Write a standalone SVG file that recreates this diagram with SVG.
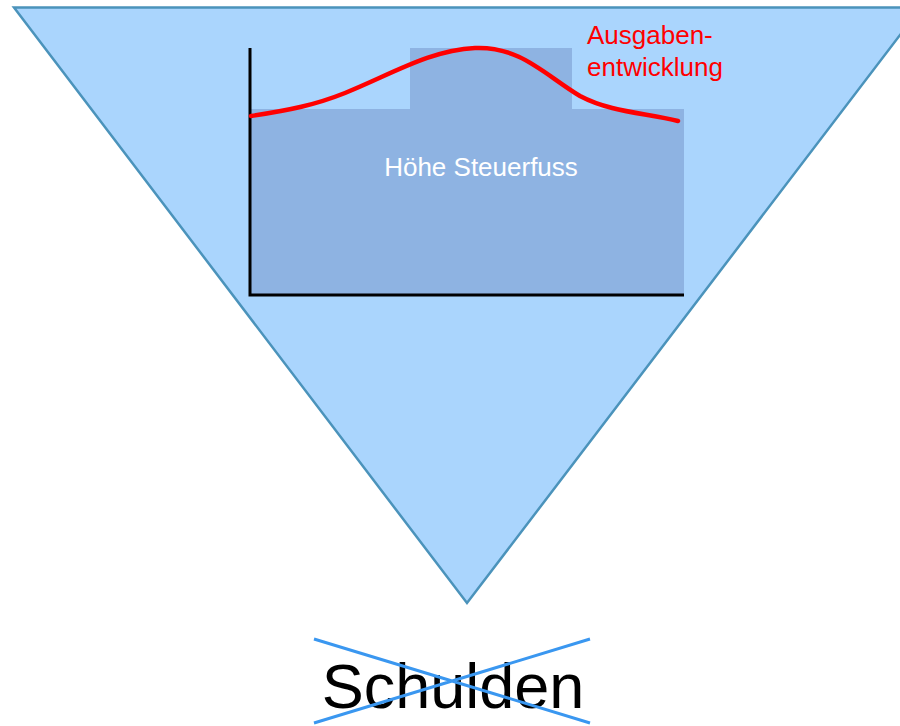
<svg xmlns="http://www.w3.org/2000/svg" width="900" height="726" viewBox="0 0 900 726">
<style>
text{font-family:"Liberation Sans",Arial,sans-serif}
.lbl{font-size:26px}
</style>
<rect width="900" height="726" fill="#fff"/>
<g id="funnel">
<polygon points="14,7.5 921,7.5 467,603" fill="#aad5fd" stroke="#4b93bb" stroke-width="2.5" stroke-linejoin="miter"/>
</g>
<g id="chart">
<path d="M250,109 H410 V48 H572 V109 H684 V295 H250 Z" fill="#8eb3e2"/>
<path d="M250,48 V295 H684" fill="none" stroke="#000" stroke-width="3"/>
<text x="481" y="176" class="lbl" fill="#fff" text-anchor="middle">Höhe Steuerfuss</text>
</g>
<g id="curve">
<path d="M251,116 C290,110 315,105 345,93 C390,75 430,50 475,48 C520,46 545,75 580,96 C610,112 645,113 678,121" fill="none" stroke="#ff0000" stroke-width="4.5" stroke-linecap="round"/>
<text x="587" y="44" class="lbl" fill="#ff0000">Ausgaben-</text>
<text x="587" y="76" class="lbl" fill="#ff0000">entwicklung</text>
</g>
<g id="schulden">
<text x="453" y="708" font-size="63" fill="#000" text-anchor="middle">Schulden</text>
<path d="M314,639 L590,723 M314,723 L590,639" stroke="#3a97f0" stroke-width="3" fill="none"/>
</g>
</svg>
